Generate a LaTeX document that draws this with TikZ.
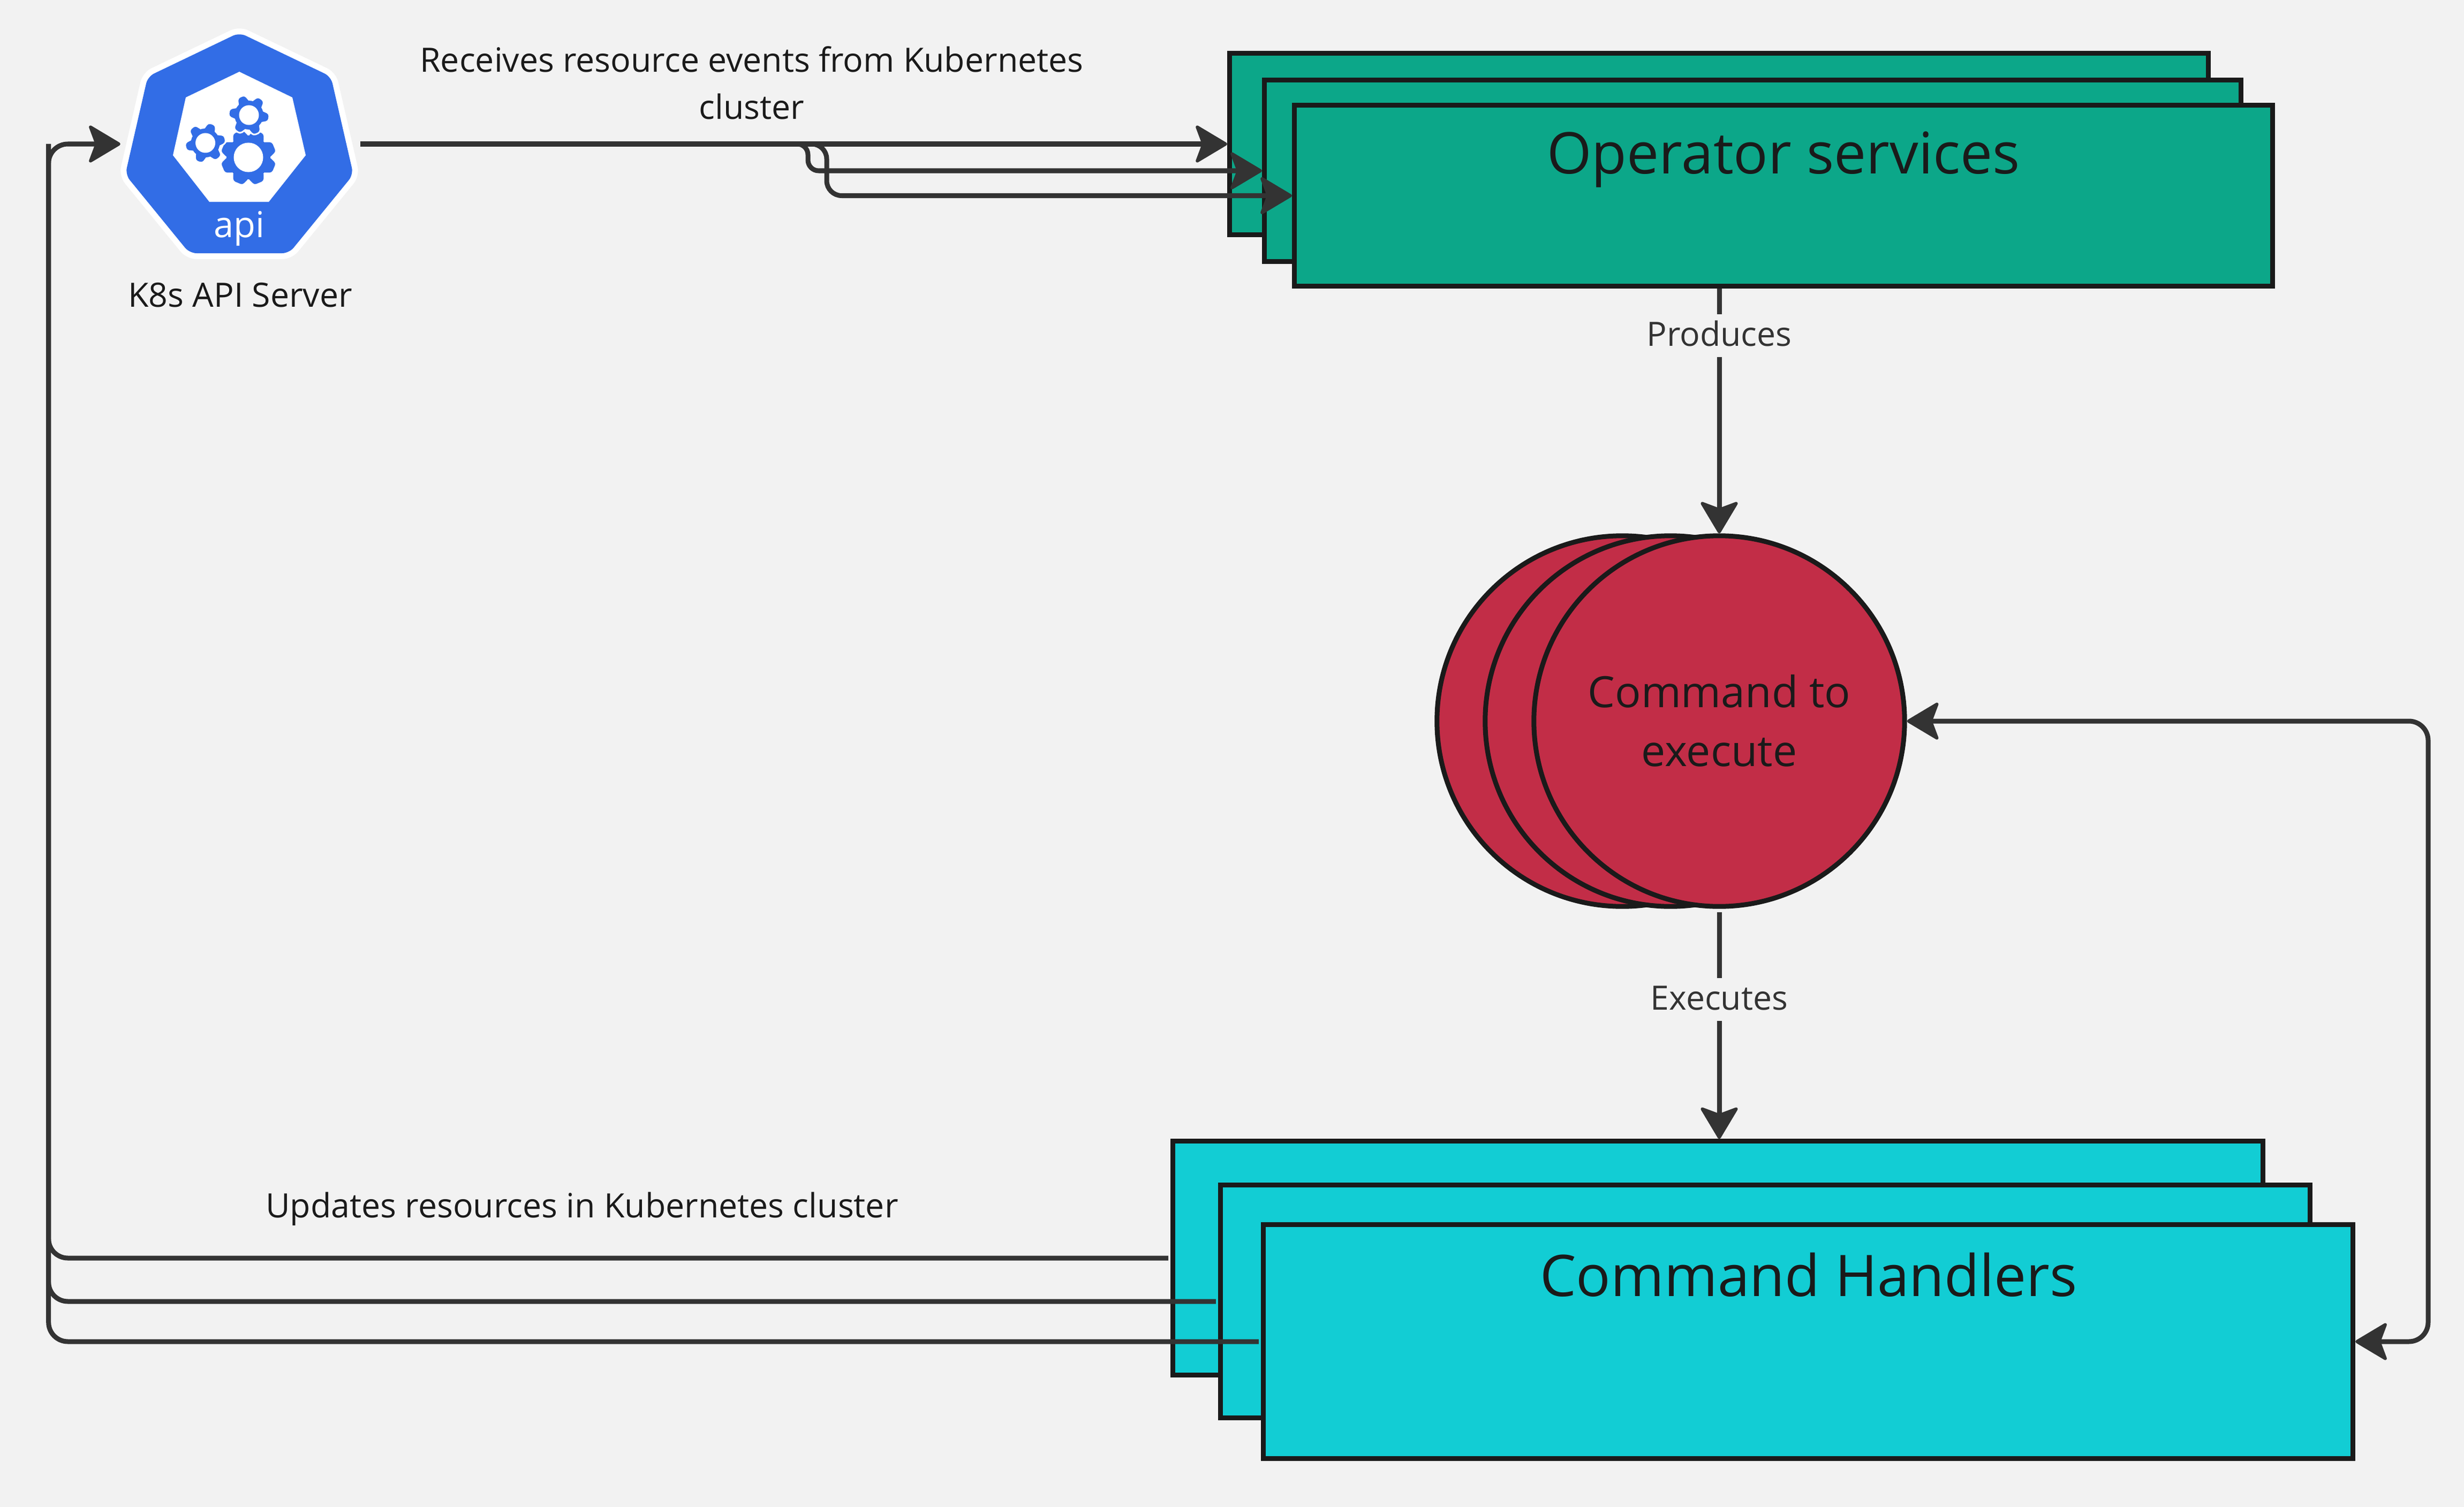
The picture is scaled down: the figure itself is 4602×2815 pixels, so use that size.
\documentclass[tikz,border=0pt]{standalone}
\usepackage{fontspec}
\setmainfont{Open Sans}
\usetikzlibrary{arrows.meta}
\definecolor{bgc}{HTML}{F2F2F2}
\definecolor{inkc}{HTML}{1A1A1A}
\definecolor{linec}{HTML}{333333}
\definecolor{opc}{HTML}{0CA789}
\definecolor{cmdc}{HTML}{C22D47}
\definecolor{hndc}{HTML}{12CDD4}
\definecolor{kblue}{HTML}{326DE6}
\tikzset{
  opbox/.style={draw=inkc,fill=opc,line width=.09cm,inner sep=0pt},
  hndbox/.style={draw=inkc,fill=hndc,line width=.09cm,inner sep=0pt},
  cmdcirc/.style={circle,draw=inkc,fill=cmdc,line width=.09cm,inner sep=0pt,minimum size=6.92cm},
  conn/.style={draw=linec,line width=.09cm,rounded corners=.36cm},
  kitetip/.tip={Stealth[length=.64cm,width=.76cm,inset=.14cm,round,line width=.06cm]},
  tip/.style={-kitetip},
  bigtxt/.style={anchor=base,font=\fontsize{30.5}{38}\selectfont,text=inkc,inner sep=0pt},
  midtxt/.style={anchor=base,font=\fontsize{22.9}{31}\selectfont,text=inkc,inner sep=0pt,align=center},
  smalltxt/.style={anchor=base,font=\fontsize{17.8}{25.2}\selectfont,text=inkc,inner sep=0pt,align=center},
  edgetxt/.style={font=\fontsize{17.8}{20}\selectfont,text=linec,fill=bgc,inner xsep=.03cm,inner ysep=0pt,text height=.59cm,text depth=.21cm},
}
\newcommand{\kgear}[8]{% cx cy hole root outer tipw n rot
  \foreach \ka in {1,...,#7}{
    \fill[kblue,draw=white,line width=.03cm,rounded corners=.05cm,rotate around={#8+360*\ka/#7:(#1,#2)}]
      (#1+#4-6,#2-#6*.85) -- (#1+#5,#2-#6*.5) -- (#1+#5,#2+#6*.5) -- (#1+#4-6,#2+#6*.85) -- cycle;
  }
  \fill[kblue] (#1,#2) circle[radius=#4*.01cm];
  \fill[white] (#1,#2) circle[radius=#3*.01cm];
}
\begin{document}
\begin{tikzpicture}[x=.01cm,y=-.01cm]
\useasboundingbox (0,0) rectangle (4602,2815);
\fill[bgc] (0,0) rectangle (4602,2815);

% API icon
\fill[white,line width=.22cm,draw=white,line join=round,rounded corners=.13cm]
  (447,61) -- (276,143) -- (234,326) -- (354,473) -- (540,473) -- (660,326) -- (618,143) -- cycle;
\fill[kblue,rounded corners=.13cm]
  (447,61) -- (276,143) -- (234,326) -- (354,473) -- (540,473) -- (660,326) -- (618,143) -- cycle;
\fill[white] (447,134) -- (347,182) -- (323,290) -- (391,377) -- (502,377) -- (571,290) -- (546,182) -- cycle;
\kgear{464}{294}{27.5}{41}{53}{21}{8}{22.5}
\kgear{383.6}{267}{18.5}{27}{38}{15}{6}{-49}
\kgear{465}{215}{18.5}{27}{38}{15}{6}{-7}
\node[anchor=base,inner sep=0pt,text=white,font=\fontsize{19}{24}\selectfont] (apitxt) at (447,443.6) {api};
\node[minimum width=4.48cm,minimum height=.1cm,inner sep=0pt,outer sep=0pt] (api) at (449,269) {};
\node[smalltxt] (apilbl) at (448.6,573) {K8s API Server};

% Operator services
\node[opbox,minimum width=18.27cm,minimum height=3.38cm] (op1) at (3210.5,269) {};
\node[opbox,minimum width=18.23cm,minimum height=3.38cm] (op2) at (3273.5,319) {};
\node[opbox,minimum width=18.26cm,minimum height=3.37cm] (op3) at (3331,365.5) {};
\node[bigtxt] (optxt) at (3331,324) {Operator services};

% Commands
\node[cmdcirc] (c1) at (3030,1347) {};
\node[cmdcirc] (c2) at (3120,1347) {};
\node[cmdcirc] (c3) at (3211,1347) {};
\node[midtxt] (ctxt) at (3211,1431) {Command to\\execute};

% Handlers
\node[hndbox,minimum width=20.35cm,minimum height=4.36cm] (h1) at (3208.75,2350) {};
\node[hndbox,minimum width=20.34cm,minimum height=4.34cm] (h2) at (3297,2431) {};
\node[hndbox,minimum width=20.34cm,minimum height=4.36cm] (h3) at (3377,2506) {};
\node[bigtxt] (htxt) at (3378,2421) {Command Handlers};

% Connectors
\coordinate (brA) at (1509,269);
\coordinate (brB) at (1544,269);
\draw[conn,tip] (api.east) -- (op1.west);
\draw[conn,tip,rounded corners=.2cm] (api.east) -- (brA) |- (op2.west);
\draw[conn,tip,rounded corners=.28cm] (api.east) -- (brB) |- (op3.west);

\coordinate (leftrail) at (90.7,269);
\draw[conn] ([xshift=-.04cm]h1.west) -- (leftrail |- h1.west) -- (leftrail);
\draw[conn] ([xshift=-.04cm]h2.west) -- (leftrail |- h2.west) -- (leftrail);
\draw[conn,tip] ([xshift=-.04cm]h3.west) -- (leftrail |- h3.west) -- (leftrail) -- (api.west);

\draw[conn,tip] (c3.north |- op3.south) -- (c3.north);
\node[edgetxt] (plbl) at (3211,627) {Produces};
\draw[conn,tip] ([yshift=-.06cm]c3.south) -- (c3.south |- h1.north);
\node[edgetxt] (elbl) at (3211,1867) {Executes};

\coordinate (rightrail) at (4535,1347);
\draw[conn,kitetip-kitetip]
  (c3.east) -- (rightrail) -- (rightrail |- h3.east) -- (h3.east);

% Free texts
\node[smalltxt] (t1) at (1404,223) {Receives resource events from Kubernetes\\cluster};
\node[smalltxt] (t2) at (1087,2274) {Updates resources in Kubernetes cluster};
\end{tikzpicture}
\end{document}
